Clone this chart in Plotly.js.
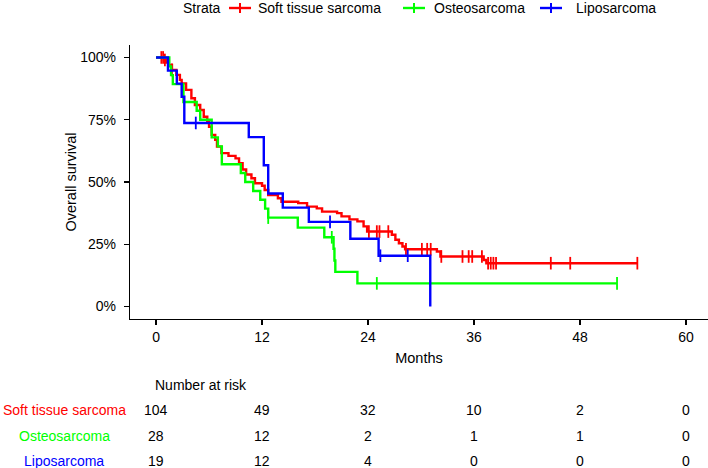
<!DOCTYPE html>
<html>
<head>
<meta charset="utf-8">
<script src="https://cdn.plot.ly/plotly-3.0.1.min.js"></script>
<style>
  html, body { margin: 0; padding: 0; background: #fff; }
  #chart { width: 708px; height: 468px; }
</style>
</head>
<body>
<div id="chart"></div>
<script>
// ---- Data ----
const strata = ['Soft tissue sarcoma', 'Osteosarcoma', 'Liposarcoma'];
const colors = ['#FF0000', '#00FF00', '#0000FF'];

// Soft tissue sarcoma (step curve: time in months, survival after step)
const stsTime = [0, 0.9, 1.1, 1.4, 1.8, 2.3, 2.7, 2.9, 3.4, 4.0, 4.4, 5.0, 5.4, 5.8, 6.0, 6.3, 6.7, 6.9, 7.4, 8.2,
  9.0, 9.4, 9.8, 10.2, 10.8, 11.2, 12.0, 12.3, 12.7, 13.8, 14.2, 16.1, 17.1, 18.2, 18.8, 20.5, 21.0, 21.9, 22.8,
  23.5, 23.9, 26.7, 27.1, 27.5, 27.9, 28.2, 31.8, 32.2, 37.1, 37.4, 54.5];
const stsSurv = [1, 0.99, 0.98, 0.97, 0.95, 0.93, 0.91, 0.896, 0.87, 0.836, 0.809, 0.789, 0.762, 0.742, 0.722, 0.689, 0.669, 0.642, 0.616, 0.605,
  0.595, 0.575, 0.55, 0.53, 0.515, 0.495, 0.485, 0.468, 0.448, 0.435, 0.421, 0.415, 0.401, 0.394, 0.381, 0.375, 0.362, 0.35, 0.342,
  0.322, 0.301, 0.288, 0.268, 0.254, 0.241, 0.23, 0.221, 0.201, 0.187, 0.174, 0.174];
const stsCensor = [0.6, 0.8, 1.0, 1.8, 24.1, 25.0, 25.3, 26.3, 28.3, 30.1, 30.7, 31.1, 32.3, 34.7, 35.4, 35.8, 36.9,
  37.6, 37.9, 38.2, 38.5, 44.7, 46.9, 54.5];

// Osteosarcoma
const osTime = [0, 1.5, 1.7, 1.9, 3.1, 4.6, 5.0, 6.3, 7.0, 7.45, 9.6, 10.1, 11.0, 11.8, 12.35, 12.7, 16.05, 19.05,
  20.1, 20.2, 20.3, 22.8, 52.2];
const osSurv = [1, 0.964, 0.929, 0.893, 0.821, 0.786, 0.75, 0.679, 0.643, 0.571, 0.536, 0.5, 0.464, 0.429, 0.393, 0.357, 0.317, 0.278,
  0.232, 0.185, 0.139, 0.093, 0.093];
const osCensor = [12.7, 19.9, 25.0, 52.2];

// Liposarcoma
const lipoTime = [0, 1.35, 2.35, 2.9, 3.2, 10.5, 12.2, 12.7, 14.35, 17.3, 22.0, 25.2, 31.05];
const lipoSurv = [1, 0.947, 0.895, 0.842, 0.737, 0.68, 0.567, 0.454, 0.397, 0.34, 0.272, 0.204, 0];
const lipoCensor = [4.5, 19.7, 25.4, 28.5];

// Number at risk table
const riskTimes = [0, 12, 24, 36, 48, 60];
const riskSts = [104, 49, 32, 10, 2, 0];
const riskOs = [28, 12, 2, 1, 1, 0];
const riskLipo = [19, 12, 4, 0, 0, 0];

const xTicks = [0, 12, 24, 36, 48, 60];
const yTicks = [0, 0.25, 0.5, 0.75, 1];
const yTickText = ['0%', '25%', '50%', '75%', '100%'];

// ---- Build chart ----
const FONT = 'Liberation Sans, Arial, Helvetica, sans-serif';
const curves = [
  {t: stsTime, s: stsSurv, c: stsCensor},
  {t: osTime, s: osSurv, c: osCensor},
  {t: lipoTime, s: lipoSurv, c: lipoCensor}
];
function survAt(times, surv, t) {
  let v = surv[0];
  for (let i = 0; i < times.length; i++) { if (times[i] <= t) v = surv[i]; }
  return v;
}

const traces = [];
curves.forEach((cv, i) => {
  traces.push({
    type: 'scatter', mode: 'lines', x: cv.t, y: cv.s, name: strata[i],
    line: {shape: 'hv', color: colors[i], width: 2.4},
    showlegend: false, hoverinfo: 'skip'
  });
  traces.push({
    type: 'scatter', mode: 'markers', x: cv.c, y: cv.c.map(t => survAt(cv.t, cv.s, t)),
    marker: {symbol: 'line-ns', size: 9, line: {color: colors[i], width: 1.8}},
    showlegend: false, hoverinfo: 'skip'
  });
});

// pixel helpers for paper placement (plot area: x 130..708, y 45..319)
function px(x) { return (x - 130) / 578; }
function py(y) { return (319 - y) / 274; }

const annotations = [];
const shapes = [];
// Legend (manual, to match spacing)
annotations.push({xref: 'paper', yref: 'paper', x: px(181), y: py(8), text: 'Strata', showarrow: false,
  xanchor: 'left', yanchor: 'middle', font: {family: FONT, size: 14, color: '#000'}});
const legSym = [240, 414, 551];
const legText = [256, 432, 574];
strata.forEach((name, i) => {
  shapes.push({type: 'line', xref: 'paper', yref: 'paper', x0: px(legSym[i] - 11), x1: px(legSym[i] + 11),
    y0: py(8), y1: py(8), line: {color: colors[i], width: 2.4}});
  shapes.push({type: 'line', xref: 'paper', yref: 'paper', x0: px(legSym[i]), x1: px(legSym[i]),
    y0: py(3), y1: py(13), line: {color: colors[i], width: 2}});
  annotations.push({xref: 'paper', yref: 'paper', x: px(legText[i]), y: py(8), text: name, showarrow: false,
    xanchor: 'left', yanchor: 'middle', font: {family: FONT, size: 14, color: '#000'}});
});

// Risk table
annotations.push({xref: 'paper', yref: 'paper', x: px(153), y: py(385), text: 'Number at risk',
  showarrow: false, xanchor: 'left', yanchor: 'middle', font: {family: FONT, size: 14, color: '#000'}});
const rows = [riskSts, riskOs, riskLipo];
const rowPx = [410, 436, 461];
rows.forEach((vals, r) => {
  annotations.push({xref: 'paper', yref: 'paper', x: px(64), y: py(rowPx[r]), text: strata[r],
    showarrow: false, xanchor: 'center', yanchor: 'middle', font: {family: FONT, size: 14, color: colors[r]}});
  vals.forEach((v, k) => {
    annotations.push({xref: 'x', yref: 'paper', x: riskTimes[k], y: py(rowPx[r]), text: String(v),
      showarrow: false, xanchor: 'center', yanchor: 'middle', font: {family: FONT, size: 14, color: '#000'}});
  });
});

const layout = {
  width: 708, height: 468,
  margin: {l: 130, r: 0, t: 45, b: 149, pad: 0},
  paper_bgcolor: '#fff', plot_bgcolor: '#fff',
  font: {family: FONT, size: 14, color: '#000'},
  xaxis: {
    range: [-2.95, 62.5], tickvals: xTicks, ticktext: xTicks.map(String),
    showgrid: false, zeroline: false, showline: true, linecolor: '#000', linewidth: 1.2,
    ticks: 'outside', ticklen: 5, tickwidth: 1.2, tickcolor: '#000',
    tickfont: {family: FONT, size: 14, color: '#000'},
    title: {text: 'Months', font: {family: FONT, size: 14.5, color: '#000'}, standoff: 8}
  },
  yaxis: {
    range: [-0.05, 1.05], tickvals: yTicks, ticktext: yTickText,
    showgrid: false, zeroline: false, showline: true, linecolor: '#000', linewidth: 1.2,
    ticks: 'outside', ticklen: 5, tickwidth: 1.2, tickcolor: '#000', ticklabelstandoff: 5,
    tickfont: {family: FONT, size: 14, color: '#000'},
    title: {text: 'Overall survival', font: {family: FONT, size: 14.5, color: '#000'}, standoff: 0}
  },
  annotations: annotations,
  shapes: shapes,
  showlegend: false
};

Plotly.newPlot('chart', traces, layout, {displayModeBar: false, staticPlot: true});
</script>
</body>
</html>
